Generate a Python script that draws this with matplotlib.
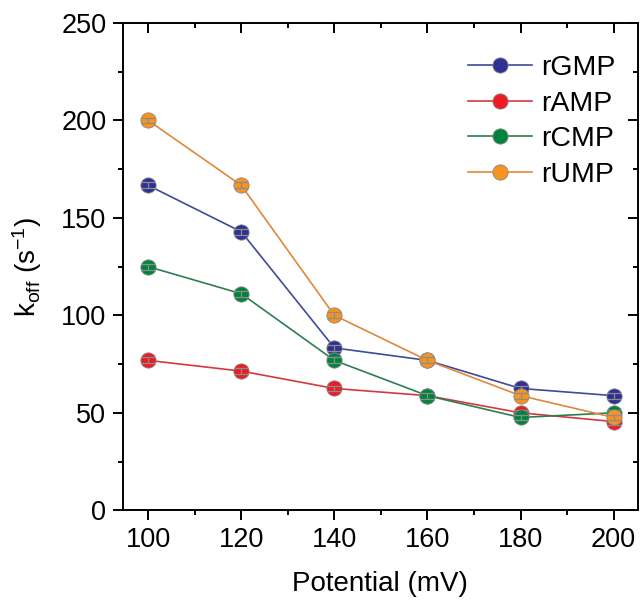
import numpy as np
import matplotlib
matplotlib.use('Agg')
import matplotlib.pyplot as plt
from matplotlib.ticker import MultipleLocator

plt.rcParams['font.family'] = ['Liberation Sans', 'DejaVu Sans']
plt.rcParams['mathtext.fontset'] = 'custom'
plt.rcParams['mathtext.rm'] = 'Liberation Sans'
plt.rcParams['mathtext.it'] = 'Liberation Sans'

# data
potential = [100, 120, 140, 160, 180, 200]
rGMP = [166.7, 142.9, 83.3, 76.9, 62.5, 58.8]
rAMP = [76.9, 71.4, 62.5, 58.8, 50.0, 45.5]
rCMP = [125.0, 111.1, 76.9, 58.8, 47.6, 50.0]
rUMP = [200.0, 166.7, 100.0, 76.9, 58.8, 47.6]
err = [1.5, 1.5, 1.5, 1.5, 1.5, 1.5]

series = [('rGMP', rGMP, '#2e3192', '#3f4a99'),
          ('rAMP', rAMP, '#ed1c24', '#d23a3f'),
          ('rCMP', rCMP, '#00843d', '#2e7d52'),
          ('rUMP', rUMP, '#f7931e', '#e0883a')]

fig = plt.figure(figsize=(6.41, 6.06), dpi=100)
ax = fig.add_axes([0.192, 0.158, 0.803, 0.804])

for i, (name, vals, mc, lc) in enumerate(series):
    ax.plot(potential, vals, '-', color=lc, lw=1.2, marker='o', ms=11,
            mfc=mc, mec='#8a8a8a', mew=0.6, label=name, zorder=3 + i)
    ax.errorbar(potential, vals, yerr=err, fmt='none', ecolor='#8c8c8c',
                elinewidth=0.9, capsize=5, capthick=0.9, zorder=3.5 + i)

ax.set_xlim(94.6, 205.2)
ax.set_ylim(0, 250)
ax.xaxis.set_major_locator(MultipleLocator(20))
ax.xaxis.set_minor_locator(MultipleLocator(10))
ax.yaxis.set_major_locator(MultipleLocator(50))
ax.yaxis.set_minor_locator(MultipleLocator(25))
for s in ax.spines.values():
    s.set_linewidth(1.4)
ax.tick_params(which='both', width=1.4, labelsize=19.5, direction='out')
ax.tick_params(which='major', length=7, pad=5)
ax.tick_params(which='minor', length=3.5)
ax.tick_params(which='both', top=True, right=True)
# mirrored ticks on top/right point inward, like the original
for t in ax.xaxis.get_major_ticks() + ax.xaxis.get_minor_ticks():
    t.tick2line.set_marker(3)
for t in ax.yaxis.get_major_ticks() + ax.yaxis.get_minor_ticks():
    t.tick2line.set_marker(0)

ax.set_xlabel('Potential (mV)', fontsize=20, labelpad=13)
ax.set_ylabel(r'k$_{\mathrm{off}}$ (s$^{-1}$)', fontsize=20, labelpad=12)

leg = ax.legend(loc='upper right', bbox_to_anchor=(0.978, 0.957), fontsize=20.5,
                frameon=False, handlelength=2.25, labelspacing=0.33,
                handletextpad=0.3, borderaxespad=0.0)

plt.savefig('out.png', dpi=100)
